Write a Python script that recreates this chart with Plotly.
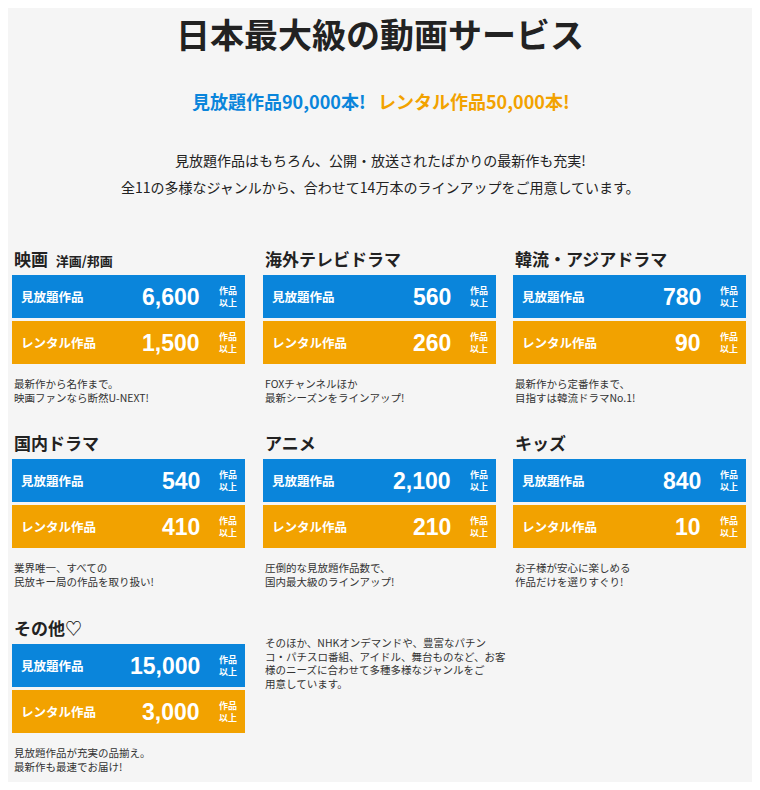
import plotly.graph_objects as go

# data
genres = ["映画", "海外テレビドラマ", "韓流・アジアドラマ", "国内ドラマ", "アニメ", "キッズ", "その他♡"]
sub_labels = ["洋画/邦画", "", "", "", "", "", ""]
unlimited = [6600, 560, 780, 540, 2100, 840, 15000]
rental = [1500, 260, 90, 410, 210, 10, 3000]
notes = [
    "最新作から名作まで。<br>映画ファンなら断然U-NEXT!",
    "FOXチャンネルほか<br>最新シーズンをラインアップ!",
    "最新作から定番作まで、<br>目指すは韓流ドラマNo.1!",
    "業界唯一、すべての<br>民放キー局の作品を取り扱い!",
    "圧倒的な見放題作品数で、<br>国内最大級のラインアップ!",
    "お子様が安心に楽しめる<br>作品だけを選りすぐり!",
    "見放題作品が充実の品揃え。<br>最新作も最速でお届け!",
]
extra_note = ("そのほか、NHKオンデマンドや、豊富なパチン<br>コ・パチスロ番組、アイドル、舞台ものなど、お客<br>"
              "様のニーズに合わせて多種多様なジャンルをご<br>用意しています。")

BLUE = "#0a85db"
ORANGE = "#f2a200"
FONT = "Noto Sans CJK JP"

fig = go.Figure()
shapes = []
ann = []

def text(x, y, s, size, color="#222", bold=False, xanchor="left", yanchor="middle", align="left", family=FONT):
    ann.append(dict(x=x, y=y, text=f"<b>{s}</b>" if bold else s, showarrow=False,
                    xanchor=xanchor, yanchor=yanchor, align=align,
                    font=dict(size=size, color=color, family=family)))

text(380, 33, "日本最大級の動画サービス", 34, bold=True, xanchor="center")
text(368, 101, "見放題作品90,000本!", 18, BLUE, True, xanchor="right")
text(376, 101, "レンタル作品50,000本!", 18, ORANGE, True)
text(380, 160, "見放題作品はもちろん、公開・放送されたばかりの最新作も充実!", 14, xanchor="center")
text(380, 187, "全11の多様なジャンルから、合わせて14万本のラインアップをご用意しています。", 14, xanchor="center")

col_x = [12, 263, 513]
row_y = [258, 442, 627]
W = 233
for i, g in enumerate(genres):
    x0 = col_x[i % 3]
    y0 = row_y[i // 3]
    head = g if not sub_labels[i] else f"{g}  <span style='font-size:13px'>{sub_labels[i]}</span>"
    text(x0, y0, head, 17, bold=True)
    for j, (val, label, col) in enumerate([(unlimited[i], "見放題作品", BLUE), (rental[i], "レンタル作品", ORANGE)]):
        top = y0 + 17 + j * 46
        shapes.append(dict(type="rect", x0=x0, x1=x0 + W, y0=top, y1=top + 43,
                           fillcolor=col, line_width=0, layer="below"))
        cy = top + 21.5
        text(x0 + 7, cy, label, 12.5, "white", True)
        text(x0 + 190, cy, f"{val:,}", 23, "white", True, xanchor="right", family="Liberation Sans")
        text(x0 + 216, cy, "作品<br>以上", 9, "white", True, xanchor="center")
    text(x0, y0 + 132, notes[i], 10.5, "#333", yanchor="middle")
text(263, 663, extra_note, 10.5, "#333")

# page body has an 8px margin, so map the axes to page pixels
fig.update_layout(
    width=744, height=774, margin=dict(l=0, r=0, t=0, b=0),
    paper_bgcolor="#f5f5f5", plot_bgcolor="#f5f5f5",
    xaxis=dict(range=[8, 752], visible=False, fixedrange=True),
    yaxis=dict(range=[782, 8], visible=False, fixedrange=True),
    shapes=shapes, annotations=ann, showlegend=False,
)
fig.write_html("out.html")
